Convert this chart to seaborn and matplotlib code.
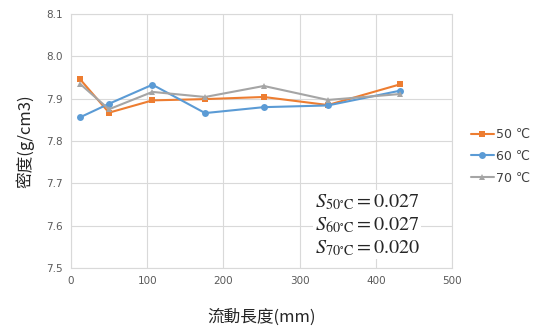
import matplotlib
matplotlib.use("Agg")
import matplotlib.pyplot as plt
import pandas as pd
import seaborn as sns

# 流動長度 (mm)
length_mm = [12, 50, 107, 176, 253, 337, 432]
# 密度 (g/cm3)
dens_50 = [7.946, 7.867, 7.896, 7.899, 7.904, 7.885, 7.934]
dens_60 = [7.856, 7.888, 7.933, 7.866, 7.880, 7.884, 7.919]
dens_70 = [7.935, 7.875, 7.916, 7.904, 7.930, 7.897, 7.911]
labels = ["50 ℃", "60 ℃", "70 ℃"]
stats = ["0.027", "0.027", "0.020"]

rows = []
for lab, vals in zip(labels, [dens_50, dens_60, dens_70]):
    for x, y in zip(length_mm, vals):
        rows.append({"len": x, "dens": y, "temp": lab})
df = pd.DataFrame(rows)

sns.set_style("white")
plt.rcParams["font.family"] = ["DejaVu Sans", "Noto Sans CJK TC"]
plt.rcParams["mathtext.fontset"] = "stix"

fig = plt.figure(figsize=(5.37, 3.33), dpi=100)
ax = fig.add_axes([0.132, 0.195, 0.710, 0.763])

palette = {"50 ℃": "#ED7D31", "60 ℃": "#5B9BD5", "70 ℃": "#A5A5A5"}
markers = {"50 ℃": "s", "60 ℃": "o", "70 ℃": "^"}
sns.lineplot(data=df, x="len", y="dens", hue="temp", style="temp",
             palette=palette, markers=markers, dashes=False,
             markersize=5, linewidth=1.5, markeredgewidth=0, ax=ax)

ax.set_xlim(0, 500)
ax.set_ylim(7.5, 8.1)
ax.set_xticks(range(0, 501, 100))
ax.set_yticks([7.5, 7.6, 7.7, 7.8, 7.9, 8.0, 8.1])
ax.set_yticklabels(["7.5", "7.6", "7.7", "7.8", "7.9", "8.0", "8.1"])
ax.grid(True, color="#D9D9D9", linewidth=0.8)
for s in ax.spines.values():
    s.set_color("#D9D9D9")
ax.tick_params(axis="both", colors="#595959", labelsize=7.5, length=0, pad=6)

ax.set_xlabel("流動長度(mm)", fontsize=12, family=["Noto Sans CJK TC"], labelpad=16)
ax.set_ylabel("密度(g/cm3)", fontsize=12, family=["Noto Sans CJK TC"], labelpad=8)

leg = ax.legend(loc="center left", bbox_to_anchor=(1.02, 0.44), frameon=False,
                fontsize=9, handlelength=1.8, handletextpad=0.2, labelspacing=0.7)
for t in leg.get_texts():
    t.set_color("#404040")

txt = "\n".join(r"$S_{%s^{\circ}\mathrm{C}} = %s$" % (lab.split()[0], v)
                for lab, v in zip(labels, stats))
ax.text(0.64, 0.30, txt, transform=ax.transAxes, fontsize=14.5, va="top", ha="left",
        linespacing=1.22, bbox=dict(facecolor="white", edgecolor="none", pad=1))

fig.savefig("out.png", dpi=100)
